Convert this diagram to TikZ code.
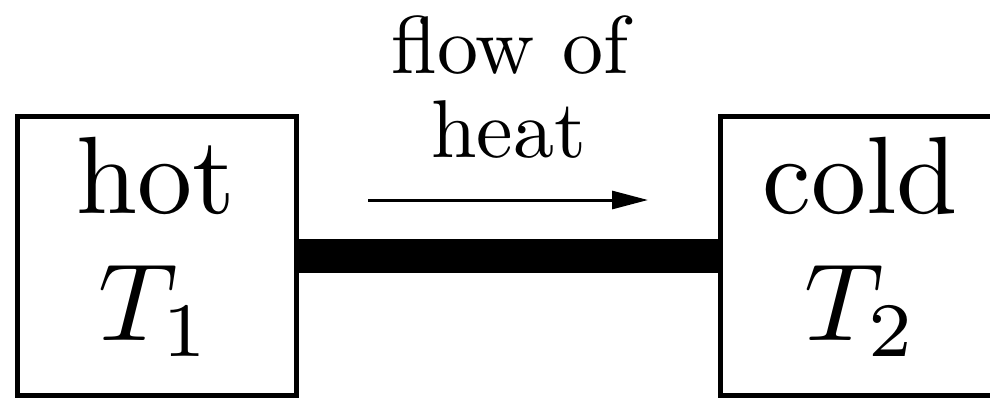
\documentclass[tikz,border=0pt]{standalone}
\usepackage{graphicx}
\usetikzlibrary{arrows.meta}
\newcommand{\bigtxt}[1]{\scalebox{5.5}{\normalsize #1}}
\newcommand{\toptxt}[1]{\scalebox{4.1}{\normalsize #1}}
\begin{document}
\begin{tikzpicture}[x=0.5pt,y=-0.5pt,
  bodybox/.style={draw,line width=2.5pt,minimum width=139.5pt,minimum height=139.5pt,inner sep=0pt},
  textlabel/.style={anchor=base,inner sep=0pt}]
\useasboundingbox (0,0) rectangle (990,397);
\clip (0,0) rectangle (990,397);
\node[bodybox] (L) at (157,255.5) {};
\node[bodybox] (R) at (860,255.5) {};
\node[textlabel] (hot) at (155.5,213) {\bigtxt{hot}};
\node[textlabel] (t1) at (155.5,340) {\bigtxt{$T_1$}};
\node[textlabel] (cold) at (860,213) {\bigtxt{cold}};
\node[textlabel] (t2) at (861,340) {\bigtxt{$T_2$}};
\node[textlabel] (flow) at (510,73) {\toptxt{flow of}};
\node[textlabel] (heat) at (508.5,157) {\toptxt{heat}};
\coordinate (a1) at (368,200);
\coordinate (a2) at (648,200);
\draw[line width=17pt] (L.east) -- (R.west);
\draw[line width=1.5pt,-{Triangle[length=18pt,width=9pt]}] (a1) -- (a2);
\end{tikzpicture}
\end{document}
